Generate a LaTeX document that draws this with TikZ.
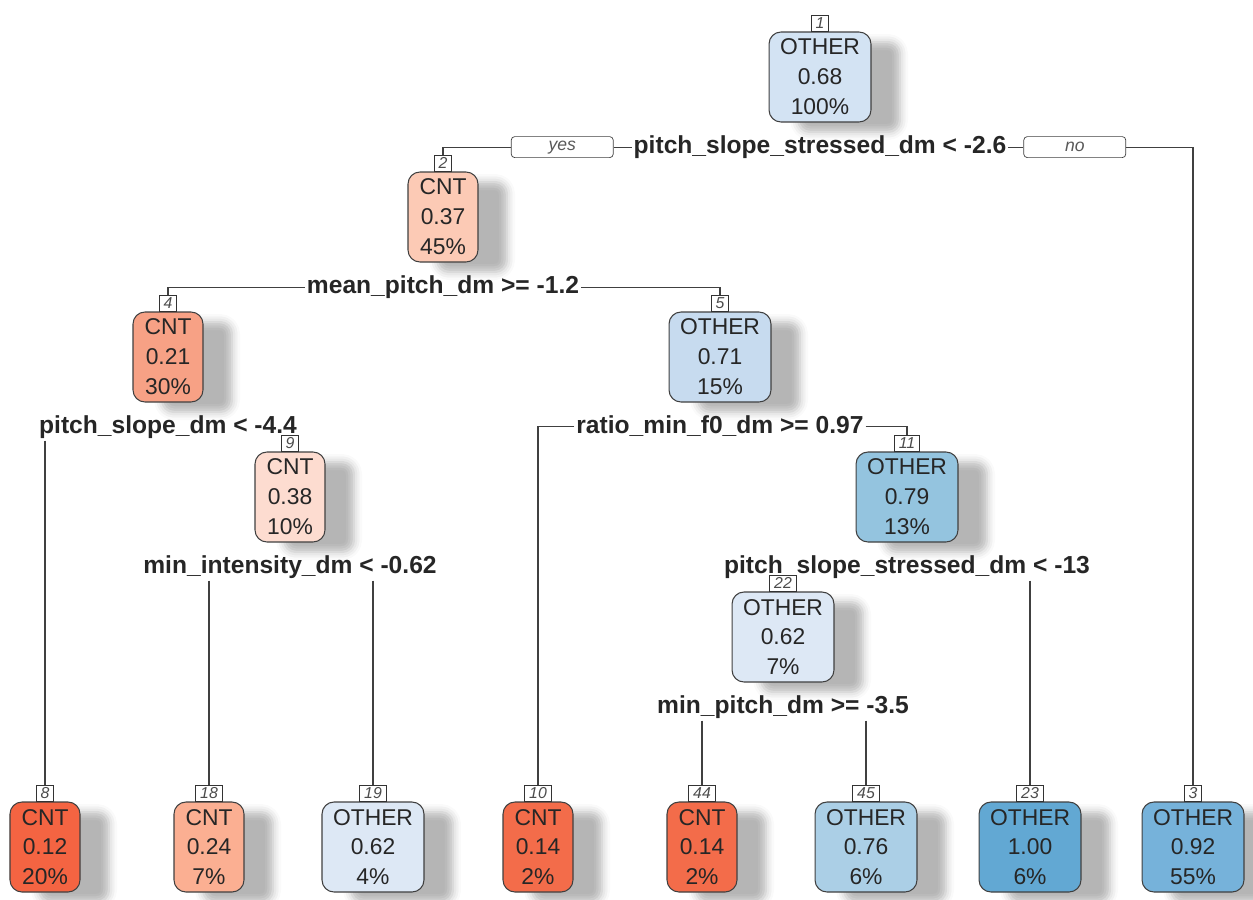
\documentclass[tikz,border=0pt]{standalone}
\usepackage{fontspec}
\setmainfont{Liberation Sans}
\usetikzlibrary{positioning,shadows.blur}

\definecolor{cnta}{HTML}{F46442}
\definecolor{cntb}{HTML}{F36C4A}
\definecolor{cntc}{HTML}{F7A185}
\definecolor{cntd}{HTML}{FBAF92}
\definecolor{cnte}{HTML}{FCCAB5}
\definecolor{cntf}{HTML}{FDDCD0}
\definecolor{otha}{HTML}{DDE8F5}
\definecolor{othb}{HTML}{D3E3F3}
\definecolor{othc}{HTML}{C7DBEF}
\definecolor{othd}{HTML}{ABCFE6}
\definecolor{othe}{HTML}{94C4DF}
\definecolor{othf}{HTML}{76B2DA}
\definecolor{othg}{HTML}{62A8D3}

\begin{document}
\begin{tikzpicture}[
    tn/.style={draw=black!75, line width=0.6pt, rounded corners=0.24cm, minimum height=1.8cm, minimum width=1.4cm, inner xsep=0.22cm, align=center, font=\fontsize{13}{17}\selectfont, text=black!85,
        blur shadow={shadow xshift=0.58cm, shadow yshift=-0.2cm, shadow blur radius=0.16cm, shadow opacity=29}},
    nb/.style={draw=black!80, fill=white, font=\fontsize{9}{10}\selectfont\itshape, inner xsep=2.5pt, inner ysep=1pt, minimum height=0.32cm, minimum width=0.28cm, text=black!70},
    sp/.style={font=\fontsize{14}{16}\selectfont\bfseries, inner sep=1pt, text=black!85},
    yn/.style={draw=black!75, fill=white, rounded corners=2pt, minimum width=2.04cm, minimum height=0.42cm, inner sep=0pt, font=\fontsize{10}{12}\selectfont\itshape, text=black!65},
    ln/.style={draw=black!75, line width=0.6pt}
]
\useasboundingbox (0,0) rectangle (25.06,-17.98);

% inner nodes
\node[tn, fill=othb] (n1) at (16.40,-1.54) {OTHER\\0.68\\100\%};
\node[tn, fill=cnte] (n2) at (8.86,-4.34) {CNT\\0.37\\45\%};
\node[tn, fill=cntc] (n4) at (3.36,-7.14) {CNT\\0.21\\30\%};
\node[tn, fill=othc] (n5) at (14.40,-7.14) {OTHER\\0.71\\15\%};
\node[tn, fill=cntf] (n9) at (5.80,-9.94) {CNT\\0.38\\10\%};
\node[tn, fill=othe] (n11) at (18.14,-9.94) {OTHER\\0.79\\13\%};
\node[tn, fill=otha] (n22) at (15.66,-12.74) {OTHER\\0.62\\7\%};

% leaves
\node[tn, fill=cnta] (n8) at (0.90,-16.94) {CNT\\0.12\\20\%};
\node[tn, fill=cntd] (n18) at (4.18,-16.94) {CNT\\0.24\\7\%};
\node[tn, fill=otha] (n19) at (7.46,-16.94) {OTHER\\0.62\\4\%};
\node[tn, fill=cntb] (n10) at (10.76,-16.94) {CNT\\0.14\\2\%};
\node[tn, fill=cntb] (n44) at (14.04,-16.94) {CNT\\0.14\\2\%};
\node[tn, fill=othd] (n45) at (17.32,-16.94) {OTHER\\0.76\\6\%};
\node[tn, fill=othg] (n23) at (20.60,-16.94) {OTHER\\1.00\\6\%};
\node[tn, fill=othf] (n3) at (23.86,-16.94) {OTHER\\0.92\\55\%};

% split labels
\node[sp, below=0.22cm of n1] (s1) {pitch\_slope\_stressed\_dm < -2.6};
\node[sp, below=0.22cm of n2] (s2) {mean\_pitch\_dm >= -1.2};
\node[sp, below=0.22cm of n4] (s4) {pitch\_slope\_dm < -4.4};
\node[sp, below=0.22cm of n5] (s5) {ratio\_min\_f0\_dm >= 0.97};
\node[sp, below=0.22cm of n9] (s9) {min\_intensity\_dm < -0.62};
\node[sp, below=0.22cm of n11] (s11) {pitch\_slope\_stressed\_dm < -13};
\node[sp, below=0.22cm of n22] (s22) {min\_pitch\_dm >= -3.5};

\node[yn, left=0.36cm of s1] (yes) {yes};
\node[yn, right=0.3cm of s1] (no) {no};

% node numbers
\foreach \n in {1,2,4,5,9,11,22,8,18,19,10,44,45,23,3}
    \node[nb, above=0pt of n\n] (b\n) {\n};

% branches
\draw[ln] (b2.north) |- (yes.west);
\draw[ln] (yes.east) -- (s1.west);
\draw[ln] (s1.east) -- (no.west);
\draw[ln] (no.east) -| (b3.north);
\draw[ln] (s2.west) -| (b4.north);
\draw[ln] (s2.east) -| (b5.north);
\draw[ln] (s4.south -| b8.north) -- (b8.north);
\draw[ln] (s9.south -| b18.north) -- (b18.north);
\draw[ln] (s9.south -| b19.north) -- (b19.north);
\draw[ln] (s5.west) -| (b10.north);
\draw[ln] (s5.east) -| (b11.north);
\draw[ln] (s11.south -| b23.north) -- (b23.north);
\draw[ln] (s22.south -| b44.north) -- (b44.north);
\draw[ln] (s22.south -| b45.north) -- (b45.north);
\end{tikzpicture}
\end{document}
